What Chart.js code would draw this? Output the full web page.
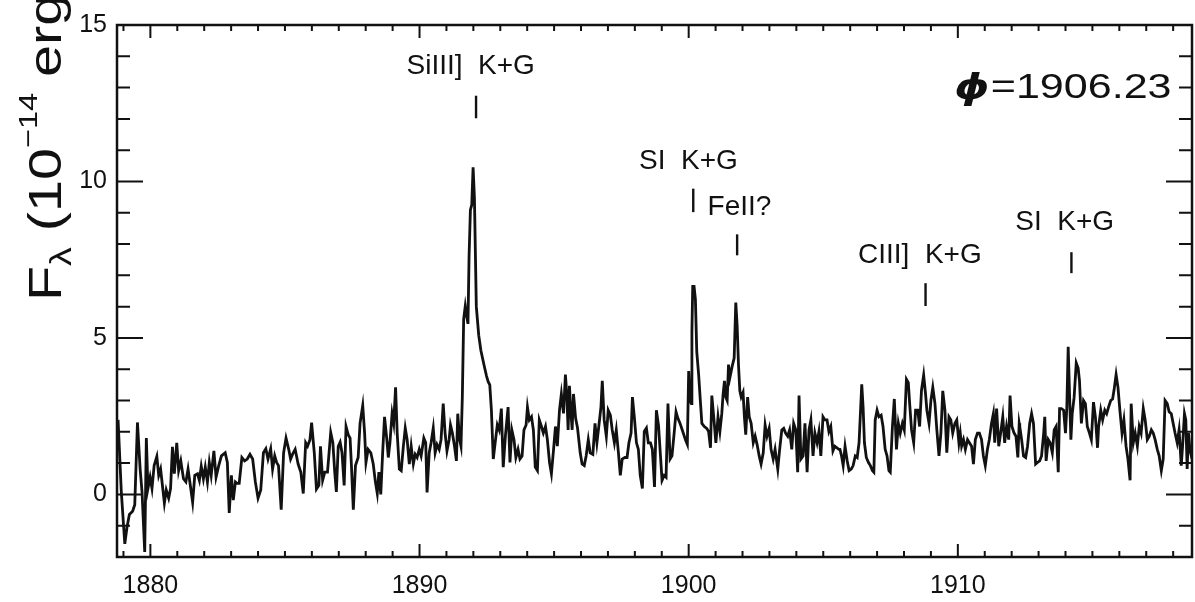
<!DOCTYPE html>
<html>
<head>
<meta charset="utf-8">
<script src="https://cdn.jsdelivr.net/npm/chart.js@4.4.1/dist/chart.umd.min.js"></script>
<style>
  html, body { margin: 0; padding: 0; background: #fff; }
  #wrap { width: 1195px; height: 602px; }
</style>
</head>
<body>
<div id="wrap"><canvas id="spectrum" width="1195" height="602"></canvas></div>
<script>
// wavelength in Angstrom
var wavelength = [
  1878.80, 1878.92, 1879.05, 1879.13, 1879.22, 1879.34, 1879.42, 1879.52, 1879.62, 1879.69,
  1879.79, 1879.85, 1879.91, 1879.99, 1880.06, 1880.14, 1880.24, 1880.31, 1880.38, 1880.46,
  1880.52, 1880.59, 1880.68, 1880.75, 1880.82, 1880.89, 1880.98, 1881.05, 1881.13, 1881.23,
  1881.32, 1881.40, 1881.50, 1881.57, 1881.65, 1881.75, 1881.82, 1881.89, 1881.97, 1882.04,
  1882.12, 1882.19, 1882.26, 1882.36, 1882.44, 1882.54, 1882.64, 1882.78, 1882.86, 1882.93,
  1883.01, 1883.08, 1883.16, 1883.23, 1883.30, 1883.40, 1883.50, 1883.60, 1883.70, 1883.80,
  1883.90, 1884.00, 1884.10, 1884.20, 1884.29, 1884.37, 1884.47, 1884.54, 1884.62, 1884.69,
  1884.76, 1884.86, 1884.95, 1885.04, 1885.14, 1885.21, 1885.28, 1885.38,
  1885.49, 1885.59, 1885.68, 1885.77, 1885.84, 1885.93, 1885.99, 1886.09, 1886.17, 1886.26,
  1886.32, 1886.40, 1886.48, 1886.58, 1886.63, 1886.70, 1886.78, 1886.85, 1886.91, 1886.98,
  1887.05, 1887.12, 1887.20, 1887.27, 1887.35, 1887.42, 1887.47, 1887.54, 1887.62, 1887.72,
  1887.79, 1887.89, 1887.96, 1888.01, 1888.09, 1888.19, 1888.28, 1888.36, 1888.43, 1888.49,
  1888.56, 1888.63, 1888.70, 1888.78, 1888.84, 1888.90, 1888.98, 1889.04, 1889.11, 1889.17,
  1889.25, 1889.32, 1889.40, 1889.47, 1889.54, 1889.62, 1889.69, 1889.77, 1889.84, 1889.91,
  1889.99, 1890.06, 1890.16, 1890.23, 1890.28, 1890.36, 1890.43, 1890.51, 1890.58, 1890.65,
  1890.73, 1890.80, 1890.88, 1890.95, 1891.02, 1891.10, 1891.15, 1891.22, 1891.30, 1891.37,
  1891.42, 1891.49, 1891.54, 1891.59, 1891.64, 1891.70, 1891.75, 1891.80, 1891.84, 1891.89,
  1891.94, 1891.99, 1892.04,
  1892.11, 1892.20, 1892.28, 1892.40, 1892.49, 1892.55, 1892.61, 1892.67, 1892.74,
  1892.81, 1892.89, 1892.96, 1893.04, 1893.11, 1893.19, 1893.29, 1893.36, 1893.43, 1893.51,
  1893.58, 1893.66, 1893.73, 1893.81, 1893.88, 1893.96, 1894.01, 1894.08, 1894.16, 1894.23,
  1894.30, 1894.38, 1894.45, 1894.53, 1894.60, 1894.68, 1894.75, 1894.83, 1894.90, 1894.98,
  1895.05, 1895.12, 1895.20, 1895.27, 1895.35, 1895.42, 1895.47, 1895.52, 1895.57, 1895.62,
  1895.67, 1895.72, 1895.80, 1895.87, 1895.97, 1896.04, 1896.12, 1896.19, 1896.27, 1896.34,
  1896.44, 1896.52, 1896.59, 1896.66, 1896.74, 1896.79, 1896.86, 1896.94, 1897.01, 1897.09,
  1897.16, 1897.24, 1897.31, 1897.39, 1897.46, 1897.53, 1897.63, 1897.71, 1897.78, 1897.86,
  1897.91, 1897.98, 1898.06, 1898.13, 1898.20, 1898.28, 1898.35, 1898.43, 1898.50, 1898.58,
  1898.65, 1898.73, 1898.80, 1898.88,
  1899.01, 1899.09, 1899.16, 1899.23, 1899.31, 1899.38, 1899.46, 1899.53, 1899.60, 1899.68,
  1899.78, 1899.88, 1899.95, 1900.00, 1900.05, 1900.10, 1900.12, 1900.15, 1900.20, 1900.25,
  1900.30, 1900.37, 1900.44, 1900.49, 1900.58, 1900.67, 1900.74, 1900.81, 1900.86, 1900.94,
  1901.01, 1901.09, 1901.16, 1901.23, 1901.28, 1901.33, 1901.38, 1901.43, 1901.48, 1901.53,
  1901.58, 1901.63, 1901.69, 1901.75, 1901.80, 1901.85, 1901.90, 1901.95, 1902.02, 1902.07,
  1902.12, 1902.19, 1902.25, 1902.32, 1902.40, 1902.47, 1902.54, 1902.62, 1902.69, 1902.77,
  1902.84, 1902.91, 1902.99, 1903.06, 1903.14, 1903.21, 1903.31, 1903.38, 1903.46, 1903.53,
  1903.60, 1903.68, 1903.75, 1903.83, 1903.90, 1903.98, 1904.05, 1904.10, 1904.17, 1904.25,
  1904.32, 1904.40, 1904.47, 1904.54, 1904.62, 1904.69, 1904.77, 1904.84, 1904.91, 1904.99,
  1905.06, 1905.14, 1905.21, 1905.28, 1905.36, 1905.43, 1905.58,
  1905.62, 1905.68, 1905.74, 1905.81, 1905.89, 1905.96, 1906.04, 1906.11, 1906.19, 1906.26,
  1906.33, 1906.38, 1906.43, 1906.48, 1906.53, 1906.60, 1906.68, 1906.75, 1906.83, 1906.88,
  1906.93, 1907.00, 1907.07, 1907.15, 1907.22, 1907.30, 1907.37, 1907.44, 1907.49, 1907.57,
  1907.64, 1907.72, 1907.79, 1907.86, 1907.94, 1908.01, 1908.09, 1908.16, 1908.21, 1908.28,
  1908.36, 1908.43, 1908.51, 1908.58, 1908.65, 1908.73, 1908.80, 1908.85, 1908.93, 1909.00,
  1909.07, 1909.15, 1909.22, 1909.30, 1909.37, 1909.44, 1909.52, 1909.59, 1909.67, 1909.74,
  1909.81, 1909.89, 1909.96, 1910.04, 1910.09, 1910.14, 1910.21, 1910.28, 1910.36, 1910.43,
  1910.51, 1910.58, 1910.65, 1910.73, 1910.80, 1910.88, 1910.95, 1911.02, 1911.10, 1911.17,
  1911.25, 1911.32, 1911.37, 1911.44, 1911.52, 1911.59, 1911.67, 1911.74, 1911.81, 1911.89,
  1911.94, 1912.01, 1912.09, 1912.16, 1912.23, 1912.28,
  1912.30, 1912.37, 1912.44, 1912.52, 1912.59, 1912.67, 1912.74, 1912.81, 1912.89, 1912.96,
  1913.04, 1913.11, 1913.19, 1913.23, 1913.28, 1913.36, 1913.43, 1913.51, 1913.58, 1913.65,
  1913.73, 1913.78, 1913.85, 1913.93, 1914.00, 1914.05, 1914.10, 1914.15, 1914.20, 1914.25,
  1914.32, 1914.40, 1914.47, 1914.52, 1914.59, 1914.67, 1914.74, 1914.81, 1914.89, 1914.96,
  1915.04, 1915.11, 1915.19, 1915.23, 1915.31, 1915.38, 1915.46, 1915.53, 1915.60, 1915.68,
  1915.75, 1915.80, 1915.88, 1915.95, 1916.02, 1916.10, 1916.17, 1916.25, 1916.32, 1916.40,
  1916.44, 1916.52, 1916.59, 1916.67, 1916.74, 1916.81, 1916.89, 1916.96, 1917.04, 1917.11,
  1917.19, 1917.26, 1917.33, 1917.41, 1917.48, 1917.56, 1917.63, 1917.70, 1917.78, 1917.85,
  1917.93, 1918.00, 1918.07, 1918.15, 1918.22, 1918.30, 1918.35, 1918.42, 1918.47, 1918.52,
  1918.57, 1918.62, 1918.70
];

// flux in units of 1e-14 erg
var flux = [
  2.38, 0.08, -1.58, -1.06, -0.64, -0.54, -0.33, 2.30, 0.81, 0.08,
  -1.84, 1.80, 0.19, 0.55, 0.19, 0.92, 1.21, 0.61, 0.81, 0.19,
  -0.28, 0.14, -0.12, 0.19, 1.52, 0.66, 1.65, 0.76, 1.07, 0.50,
  0.40, 0.81, 0.19, -0.25, 0.61, 0.66, 0.45, 0.90, 0.50, 0.87,
  0.40, 1.02, 0.61, 1.39, 0.55, 0.92, 1.23, 1.33, 1.02, -0.59,
  0.61, -0.18, 0.40, 0.35, 0.35, 1.18, 1.07, 1.13, 1.28, 1.13,
  0.40, -0.12, 0.14, 1.33, 1.46, 1.13, 1.46, 0.81, 1.23, 1.02,
  0.92, -0.49, 1.33, 1.80, 1.44, 1.13, 1.28, 1.44,
  0.97, 0.71, 0.03, 1.65, 1.54, 1.75, 2.29, 1.33, 0.17, 0.29,
  1.54, 0.45, 0.71, 0.71, 1.23, 1.98, 1.65, 0.71, 0.08, 1.54,
  1.67, 1.33, 0.29, 2.17, 1.91, 1.80, 0.92, -0.49, 0.92, 1.18,
  2.27, 2.84, 1.96, 1.02, 1.44, 1.33, 0.97, 0.40, 0.03, 0.71,
  0.00, 1.33, 2.48, 1.80, 1.18, 1.65, 2.58, 2.27, 3.42, 1.96,
  0.81, 0.76, 1.54, 2.12, 1.75, 0.97, 1.54, 0.97, 1.28, 1.18,
  1.44, 1.23, 1.80, 1.65, 0.06, 1.33, 1.65, 2.12, 1.33, 1.59,
  1.44, 1.75, 2.90, 1.96, 1.39, 1.75, 2.22, 1.96, 1.54, 1.07,
  2.58, 1.75, 1.54, 3.10, 5.60, 6.02, 5.71, 5.45, 7.58, 9.09,
  9.25, 10.45, 9.46,
  6.00, 5.08, 4.60, 4.12, 3.78, 3.60, 3.50, 2.70, 1.13,
  1.65, 2.22, 2.06, 2.74, 0.87, 1.86, 2.79, 1.02, 2.06, 1.75,
  1.18, 1.44, 1.13, 1.23, 2.06, 2.22, 2.79, 2.38, 2.48, 2.06,
  0.87, 0.76, 2.38, 2.17, 1.96, 2.17, 1.75, 1.02, 0.66, 1.44,
  2.17, 1.54, 2.69, 3.21, 2.59, 3.83, 3.21, 2.06, 3.47, 2.69,
  2.06, 3.21, 2.43, 2.12, 1.33, 0.97, 0.92, 1.23, 1.75, 1.33,
  1.28, 2.27, 1.65, 2.17, 2.79, 3.63, 2.38, 1.86, 2.69, 2.53,
  2.06, 1.65, 2.06, 1.33, 0.61, 1.13, 1.18, 1.18, 1.65, 1.96,
  3.11, 2.48, 1.65, 1.44, 0.61, 0.19, 2.01, 2.12, 1.65, 1.65,
  1.44, 0.24, 2.69, 2.20,
  0.45, 0.61, 0.55, 2.90, 1.13, 1.23, 1.96, 2.64, 2.43, 2.27,
  2.01, 1.75, 1.60, 3.94, 3.00, 2.90, 5.19, 6.65, 6.65, 6.23,
  4.56, 3.83, 2.90, 2.27, 2.17, 2.11, 2.01, 1.49, 3.16, 2.38,
  1.65, 2.48, 2.01, 2.58, 3.21, 3.63, 3.11, 3.00, 4.15, 3.73,
  3.94, 4.15, 4.36, 6.13, 5.40, 4.15, 3.31, 3.11, 3.26, 2.48,
  1.91, 3.11, 2.48, 2.27, 1.65, 1.86, 1.60, 1.23, 0.97, 1.33,
  2.22, 1.86, 2.11, 1.44, 1.13, 1.44, 0.81, 1.44, 2.06, 2.11,
  1.96, 1.86, 2.06, 1.44, 2.27, 2.06, 0.71, 3.16, 1.13, 1.23,
  2.27, 0.71, 2.06, 2.38, 1.23, 1.96, 1.65, 2.01, 1.23, 2.48,
  2.38, 2.38, 2.01, 2.17, 1.39, 1.54, 1.44,
  1.44, 1.23, 0.92, 1.54, 1.07, 0.76, 0.81, 0.92, 1.23, 1.18,
  1.65, 2.58, 3.52, 2.79, 1.65, 1.18, 1.02, 0.92, 0.76, 0.71,
  2.38, 2.69, 2.48, 2.53, 2.17, 1.44, 1.23, 0.76, 0.71, 2.17,
  3.05, 1.44, 2.27, 1.96, 2.27, 2.06, 3.68, 3.57, 2.90, 2.06,
  1.65, 2.69, 2.69, 2.17, 3.33, 3.81, 3.21, 2.69, 2.27, 3.00,
  3.42, 2.90, 2.06, 1.23, 1.96, 3.31, 2.69, 1.33, 2.48, 2.38,
  1.96, 2.27, 2.38, 1.65, 1.96, 1.54, 1.75, 1.44, 1.75, 1.65,
  1.54, 0.97, 1.75, 1.96, 1.96, 1.75, 1.23, 0.92, 1.44, 1.75,
  2.27, 2.58, 1.65, 2.74, 1.54, 1.96, 2.48, 1.65, 2.17, 1.75,
  3.16, 2.17, 1.96, 1.86, 1.18, 2.27,
  2.17, 1.75, 1.23, 1.18, 1.54, 2.27, 2.58, 2.27, 0.97, 1.02,
  1.07, 1.23, 1.96, 2.48, 1.07, 1.75, 1.65, 1.33, 2.06, 2.17,
  0.71, 2.74, 2.74, 2.69, 1.96, 2.79, 4.72, 3.21, 1.75, 2.58,
  3.10, 4.20, 4.04, 3.63, 2.27, 3.00, 2.90, 2.17, 1.96, 1.75,
  2.95, 2.48, 1.49, 2.17, 2.69, 2.38, 2.69, 2.58, 2.79, 3.00,
  3.05, 3.31, 3.83, 3.42, 2.69, 1.96, 2.38, 1.54, 1.13, 0.45,
  2.90, 1.65, 1.96, 1.54, 2.17, 1.96, 2.74, 2.38, 1.75, 1.85,
  2.06, 1.96, 1.75, 1.44, 1.23, 0.76, 1.13, 3.00, 2.90, 2.64,
  2.58, 2.27, 1.96, 1.65, 2.06, 0.92, 1.54, 2.58, 2.38, 0.81,
  1.96, 1.44, 1.13
];

// labelled axis values
var xTickValues = [1880, 1890, 1900, 1910];
var yTickValues = [0, 5, 10, 15];

// identified features: name, wavelength of the tick, tick span in flux
var lineNames = ['SiIII]  K+G', 'SI  K+G', 'FeII?', 'CIII]  K+G', 'SI  K+G'];
var lineWave = [1892.10, 1900.17, 1901.80, 1908.80, 1914.22];
var tickLow = [12.02, 9.02, 7.64, 6.02, 7.07];
var tickHigh = [12.74, 9.77, 8.31, 6.75, 7.74];

var phaseText = '=1906.23';

var xMin = 1878.76, xMax = 1918.70;
var yMin = -2, yMax = 15;

var FONT = '"Liberation Sans", Arial, Helvetica, sans-serif';
var INK = '#111';

// where each feature name sits (data coords) and how it is aligned
var namePlacement = [
  { x: 1891.90, y: 13.68, align: 'center' },
  { x: 1899.99, y: 10.63, align: 'center' },
  { x: 1900.70, y: 9.19, align: 'left' },
  { x: 1908.59, y: 7.65, align: 'center' },
  { x: 1913.97, y: 8.71, align: 'center' }
];
var phasePlacement = { x: 1917.94, y: 12.97 };

var points = wavelength.map(function (w, i) { return { x: w, y: flux[i] }; });

// box round the plot with inward ticks on all four sides
var frame = {
  id: 'frame',
  afterDatasetsDraw: function (chart) {
    var ctx = chart.ctx, a = chart.chartArea;
    var xs = chart.scales.x, ys = chart.scales.y;
    ctx.save();
    ctx.strokeStyle = INK;
    ctx.lineWidth = 2.5;
    ctx.strokeRect(a.left, a.top, a.right - a.left, a.bottom - a.top);
    ctx.lineWidth = 2;
    ctx.beginPath();
    for (var w = Math.ceil(xs.min); w <= xs.max; w++) {
      var px = xs.getPixelForValue(w);
      var lx = (w % 10 === 0) ? 13 : 6;
      ctx.moveTo(px, a.bottom); ctx.lineTo(px, a.bottom - lx);
      ctx.moveTo(px, a.top); ctx.lineTo(px, a.top + lx);
    }
    for (var f = Math.ceil(ys.min); f <= ys.max; f++) {
      var py = ys.getPixelForValue(f);
      var ly = (f % 5 === 0) ? 26 : 13;
      ctx.moveTo(a.left, py); ctx.lineTo(a.left + ly, py);
      ctx.moveTo(a.right, py); ctx.lineTo(a.right - ly, py);
    }
    ctx.stroke();
    ctx.restore();
  }
};

// line identifications and the phase label
var labels = {
  id: 'labels',
  afterDatasetsDraw: function (chart) {
    var ctx = chart.ctx;
    var xs = chart.scales.x, ys = chart.scales.y;
    ctx.save();
    ctx.fillStyle = INK;
    ctx.strokeStyle = INK;
    ctx.lineWidth = 2.4;
    ctx.font = '28px ' + FONT;
    ctx.textBaseline = 'middle';
    for (var i = 0; i < lineNames.length; i++) {
      var p = namePlacement[i];
      ctx.textAlign = p.align;
      ctx.fillText(lineNames[i], xs.getPixelForValue(p.x), ys.getPixelForValue(p.y));
      var tx = xs.getPixelForValue(lineWave[i]);
      ctx.beginPath();
      ctx.moveTo(tx, ys.getPixelForValue(tickLow[i]));
      ctx.lineTo(tx, ys.getPixelForValue(tickHigh[i]));
      ctx.stroke();
    }

    // phase: stretched a little wider than the plain face
    var sx = 1.23;
    var rx = xs.getPixelForValue(phasePlacement.x);
    var ry = ys.getPixelForValue(phasePlacement.y);
    ctx.save();
    ctx.translate(rx, ry);
    ctx.scale(sx, 1);
    ctx.textAlign = 'right';
    ctx.font = '35px ' + FONT;
    var wNum = ctx.measureText(phaseText).width;
    ctx.fillText(phaseText, 0, 0);
    ctx.font = 'italic bold 36px "DejaVu Sans", ' + FONT;
    ctx.fillText('\u03D5', -wNum - 1, 1);
    ctx.restore();
    ctx.restore();
  }
};

// rotated y title with subscript and superscript
var yTitle = {
  id: 'yTitle',
  afterDraw: function (chart) {
    var ctx = chart.ctx;
    var parts = [
      { t: 'F', size: 46, dy: 0 },
      { t: '\u03BB', size: 30, dy: 10 },
      { t: ' (10', size: 46, dy: 0 },
      { t: '\u221214', size: 26, dy: -24 },
      { t: ' erg', size: 46, dy: 0 }
    ];
    ctx.save();
    ctx.translate(61, 301);
    ctx.rotate(-Math.PI / 2);
    ctx.scale(1.25, 1);
    ctx.fillStyle = INK;
    ctx.textAlign = 'left';
    ctx.textBaseline = 'alphabetic';
    var x = 0;
    parts.forEach(function (p) {
      ctx.font = p.size + 'px ' + FONT;
      ctx.fillText(p.t, x, p.dy);
      x += ctx.measureText(p.t).width;
    });
    ctx.restore();
  }
};

new Chart(document.getElementById('spectrum'), {
  type: 'scatter',
  data: {
    datasets: [{
      data: points,
      showLine: true,
      borderColor: INK,
      borderWidth: 2.8,
      pointRadius: 0,
      tension: 0
    }]
  },
  options: {
    responsive: false,
    animation: false,
    layout: { padding: { top: 13, right: 3, left: 0, bottom: 0 } },
    plugins: {
      legend: { display: false },
      tooltip: { enabled: false }
    },
    scales: {
      x: {
        type: 'linear',
        min: xMin,
        max: xMax,
        grid: { display: false, drawTicks: false },
        border: { display: false },
        afterBuildTicks: function (s) {
          s.ticks = xTickValues.map(function (v) { return { value: v }; });
        },
        ticks: {
          autoSkip: false,
          maxRotation: 0,
          padding: 14,
          color: INK,
          font: { family: FONT, size: 25 },
          callback: function (v) { return String(v); }
        },
        afterFit: function (s) { s.height = 45; }
      },
      y: {
        min: yMin,
        max: yMax,
        grid: { display: false, drawTicks: false },
        border: { display: false },
        afterBuildTicks: function (s) {
          s.ticks = yTickValues.map(function (v) { return { value: v }; });
        },
        ticks: {
          autoSkip: false,
          padding: 10,
          color: INK,
          font: { family: FONT, size: 25 },
          callback: function (v) { return String(v); }
        },
        afterFit: function (s) { s.width = 117; }
      }
    }
  },
  plugins: [frame, labels, yTitle]
});
</script>
</body>
</html>
